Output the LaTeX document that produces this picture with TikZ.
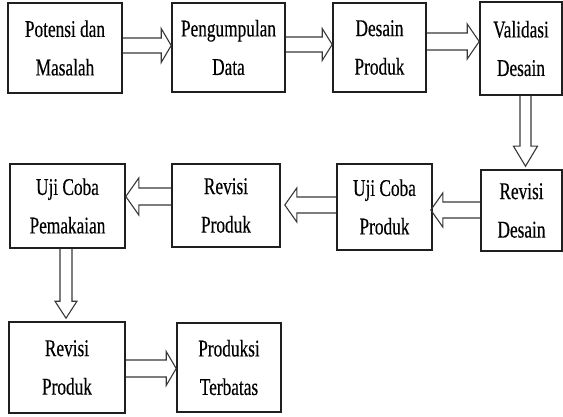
\documentclass[tikz,border=0pt]{standalone}
\usepackage{fontspec}
\setmainfont{Liberation Serif}[FakeStretch=0.72,FakeBold=0.3]
\usetikzlibrary{calc}
\begin{document}
\begin{tikzpicture}[x=1pt,y=-1pt]
\tikzset{
  box/.style={draw=black!88, line width=1.6pt, align=center, inner sep=0pt,
    text=black, font=\fontsize{24}{38.5}\selectfont},
  blk/.style n args={3}{draw=black!78, line width=1.1pt, line join=miter,
    to path={
      let \p1=(\tikztostart), \p2=(\tikztotarget),
          \n1={veclen(\x2-\x1,\y2-\y1)}, \n2={atan2(\y2-\y1,\x2-\x1)} in
      ++(\n2+90:#1) -- ++(\n2:\n1-#3) -- ++(\n2+90:#2-#1) -- (\tikztotarget)
      -- ($(\tikztotarget)+(\n2+180:#3)+(\n2-90:#2)$)
      -- ++(\n2+90:#2-#1) -- ++(\n2+180:\n1-#3)
    }},
}
\useasboundingbox (0,0) rectangle (563,417);

\node[box, minimum width=114pt, minimum height=90pt] (p1) at (65,48) {Potensi dan\\Masalah};
\node[box, minimum width=113pt, minimum height=89pt] (p2) at (228.5,47.5) {Pengumpulan\\Data};
\node[box, minimum width=93pt, minimum height=89pt] (p3) at (379.5,47.5) {Desain\\Produk};
\node[box, minimum width=82pt, minimum height=93pt] (p4) at (521,48.5) {Validasi\\Desain};
\node[box, minimum width=81pt, minimum height=81pt] (p5) at (521.5,210.5) {Revisi\\Desain};
\node[box, minimum width=95pt, minimum height=86pt] (p6) at (384.5,207) {Uji Coba\\Produk};
\node[box, minimum width=108pt, minimum height=83pt] (p7) at (226,205.5) {Revisi\\Produk};
\node[box, minimum width=115pt, minimum height=84pt] (p8) at (67.5,206) {Uji Coba\\Pemakaian};
\node[box, minimum width=116pt, minimum height=91pt] (p9) at (67,367.5) {Revisi\\Produk};
\node[box, minimum width=104pt, minimum height=89pt] (p10) at (229,367.5) {Produksi\\Terbatas};

\draw[blk={7.5pt}{17pt}{10pt}] ([yshift=2.5pt]p1.east) to ([yshift=2.5pt]p1.east -| p2.west);
\draw[blk={7.5pt}{16pt}{10pt}] ([yshift=3pt]p2.east) to ([yshift=3pt]p2.east -| p3.west);
\draw[blk={8.5pt}{17.5pt}{12pt}] ([yshift=6pt]p3.east) to ([yshift=6pt]p3.east -| p4.west);
\draw[blk={5.5pt}{12pt}{20pt}] ([xshift=4.5pt]p4.south) to ([xshift=4.5pt,yshift=3pt]p4.south |- p5.north);
\draw[blk={8pt}{17pt}{12pt}] ([yshift=0.5pt]p5.west) to ([yshift=0.5pt,xshift=-2pt]p5.west -| p6.east);
\draw[blk={8pt}{17pt}{12pt}] ([yshift=2pt]p6.west) to ([yshift=2pt,xshift=4pt]p6.west -| p7.east);
\draw[blk={8.5pt}{18.5pt}{13pt}] ([yshift=9pt]p7.west) to ([yshift=9pt]p7.west -| p8.east);
\draw[blk={6pt}{11pt}{17pt}] ([xshift=-1.5pt]p8.south) to ([xshift=-1.5pt,yshift=3pt]p8.south |- p9.north);
\draw[blk={8.5pt}{17pt}{10pt}] ([yshift=-1pt]p9.east) to ([yshift=-1pt]p9.east -| p10.west);
\end{tikzpicture}
\end{document}
